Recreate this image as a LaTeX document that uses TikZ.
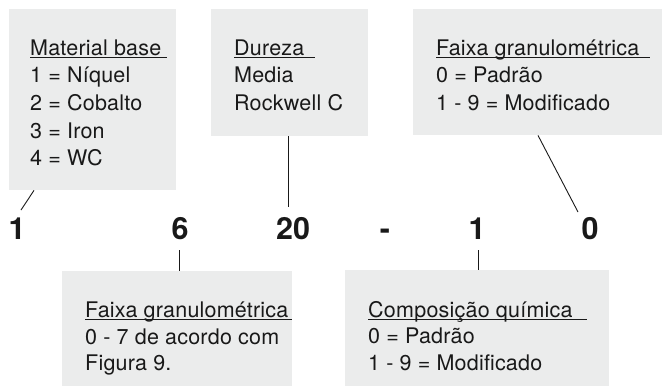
\documentclass[tikz,border=0pt]{standalone}
\usepackage{fontspec}
\setmainfont{TeX Gyre Heros}
\newfontfamily\lblfont{TeX Gyre Heros}[LetterSpace=1]
\usetikzlibrary{calc}
\definecolor{boxgray}{RGB}{235,236,236}
\definecolor{ink}{RGB}{25,25,25}
\tikzset{
  infobox/.style={fill=boxgray, draw=none, anchor=north west, inner sep=0pt},
  txt/.style={anchor=base west, inner sep=0pt, text=ink, font=\lblfont\fontsize{21.5}{24}\selectfont},
  digit/.style={anchor=base, inner sep=0pt, text=ink, font=\bfseries\fontsize{30.5}{32}\selectfont},
  uline/.style={draw=ink, line width=0.9pt},
  conn/.style={draw=ink, line width=0.9pt}
}
\begin{document}
\begin{tikzpicture}[x=1pt, y=-1pt]
\useasboundingbox (0,0) rectangle (662,386);
% boxes
\node[infobox, minimum width=167pt, minimum height=181pt] (b1) at (9,9) {};
\node[infobox, minimum width=157pt, minimum height=127pt] (b2) at (211,9) {};
\node[infobox, minimum width=249pt, minimum height=126pt] (b3) at (413,9) {};
\node[infobox, minimum width=230pt, minimum height=115pt] (b4) at (62,271) {};
\node[infobox, minimum width=264pt, minimum height=116pt] (b5) at (345,270) {};
% box 1
\node[txt] (t1h) at (30,55) {Material base};
\node[txt] (t1a) at (30,82) {1 = Níquel};
\node[txt] (t1b) at (30,110) {2 = Cobalto};
\node[txt] (t1c) at (30,138) {3 = Iron};
\node[txt] (t1d) at (30,165) {4 = WC};
\draw[uline] (30,57.5) -- (167,57.5);
% box 2
\node[txt] (t2h) at (234,55) {Dureza};
\node[txt] (t2a) at (234,82) {Media};
\node[txt] (t2b) at (234,110) {Rockwell C};
\draw[uline] (234,57.5) -- (315,57.5);
% box 3
\node[txt] (t3h) at (436,55) {Faixa granulométrica};
\node[txt] (t3a) at (436,82) {0 = Padrão};
\node[txt] (t3b) at (436,110) {1 - 9 = Modificado};
\draw[uline] (436,57.5) -- (650,57.5);
% box 4
\node[txt] (t4h) at (85,317) {Faixa granulométrica};
\node[txt] (t4a) at (85,344) {0 - 7 de acordo com};
\node[txt] (t4b) at (85,370) {Figura 9.};
\draw[uline] (85,319.5) -- (292,319.5);
% box 5
\node[txt] (t5h) at (368,317) {Composição química};
\node[txt] (t5a) at (368,343) {0 = Padrão};
\node[txt] (t5b) at (368,370) {1 - 9 = Modificado};
\draw[uline] (368,319.5) -- (587,319.5);
% digits
\node[digit] (d1) at (17,239) {1};
\node[digit] (d6) at (180,239) {6};
\node[digit] (d20) at (293,239) {20};
\node[digit] (dm) at (385,239) {-};
\node[digit] (d1b) at (477,239) {1};
\node[digit] (d0) at (590,239) {0};
% connectors
\coordinate (c1) at (21,210);
\coordinate (c20) at (288,207);
\coordinate (c0) at (578,212);
\coordinate (c6) at (179,250);
\coordinate (c1b) at (478,250);
\draw[conn] ($(b1.south west)+(25pt,0)$) -- (c1);
\draw[conn] ($(b2.south west)+(77pt,0)$) -- (c20);
\draw[conn] ($(b3.south west)+(125pt,0)$) -- (c0);
\draw[conn] (c6) -- ($(b4.north west)+(117pt,0)$);
\draw[conn] (c1b) -- ($(b5.north west)+(133pt,0)$);
\end{tikzpicture}
\end{document}
